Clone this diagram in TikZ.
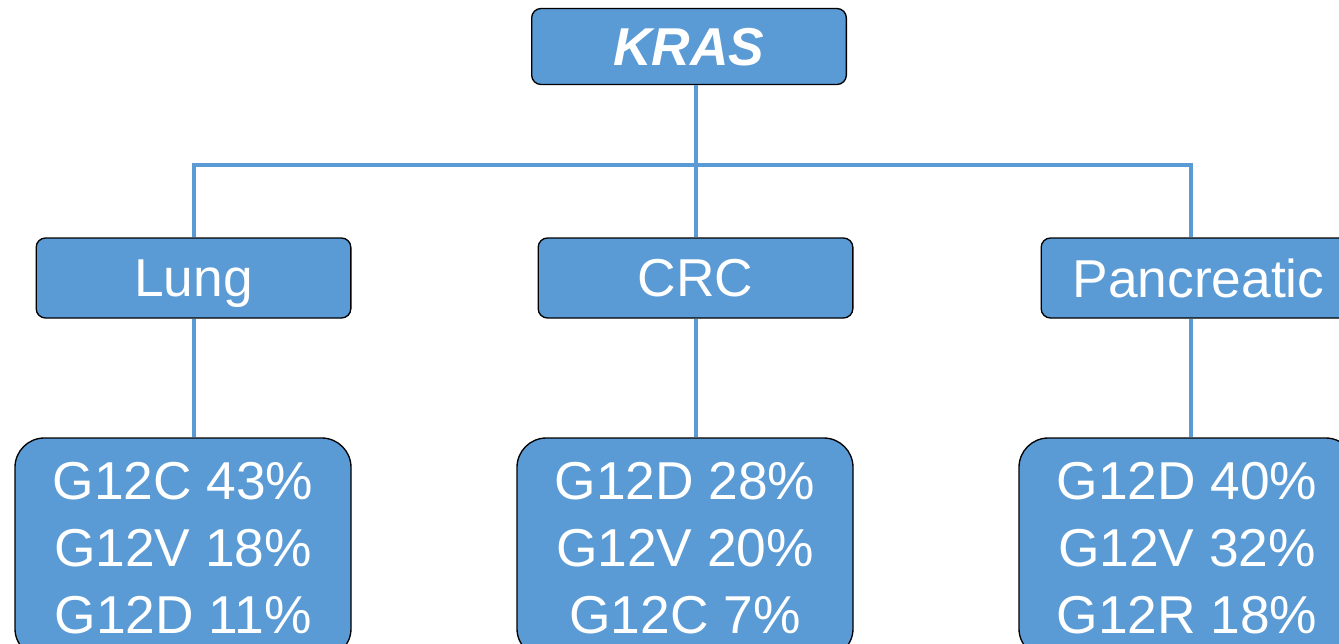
\documentclass[tikz,border=0pt]{standalone}
\usepackage{fontspec}
\setmainfont{Liberation Sans}
\usepackage{xcolor}
\usepackage{tikz}

\definecolor{krasblue}{HTML}{5B9BD5}

\begin{document}
\begin{tikzpicture}[
  x=0.75pt, y=-0.75pt,
  every node/.style={draw=black, line width=1pt, fill=krasblue,
                     text=white, align=center, inner sep=0pt,
                     font=\fontsize{40}{50}\selectfont},
  head/.style={rounded corners=7pt, minimum width=236pt, minimum height=57pt,
               text depth=0pt},
  site/.style={rounded corners=7pt, minimum width=236pt, minimum height=60pt,
               text depth=0pt},
  muts/.style={rounded corners=22pt, minimum width=252pt, minimum height=165pt},
  link/.style={draw=krasblue, line width=3pt},
]
  \useasboundingbox (0,0) rectangle (1339,643);
  \clip (0,0) rectangle (1339,643);

  \coordinate (busW) at (193,165);
  \coordinate (busE) at (1191,165);

  % gene, tumour sites, mutation shares
  \path (689,46.5)  node[head] (kras) {\textbf{\textit{KRAS}}};
  \path (193.5,278) node[site] (lung) {Lung};
  \path (695.5,278) node[site] (crc)  {CRC};
  \path (1198.5,278) node[site] (panc) {Pancreatic};

  \path (183,548)  node[muts] (lungmut) {G12C 43\%\\G12V 18\%\\G12D 11\%};
  \path (685,548)  node[muts] (crcmut)  {G12D 28\%\\G12V 20\%\\G12C 7\%};
  \path (1187,548) node[muts] (pancmut) {G12D 40\%\\G12V 32\%\\G12R 18\%};

  % tree lines
  \draw[link] (kras.south -| crc.north) -- (crc.north);
  \draw[link] (lung.north) |- (busE) -- (busE |- panc.north);
  \draw[link] (lung.south) -- (lung.south |- lungmut.north);
  \draw[link] (crc.south) -- (crc.south |- crcmut.north);
  \draw[link] (busE |- panc.south) -- (busE |- pancmut.north);
\end{tikzpicture}
\end{document}
